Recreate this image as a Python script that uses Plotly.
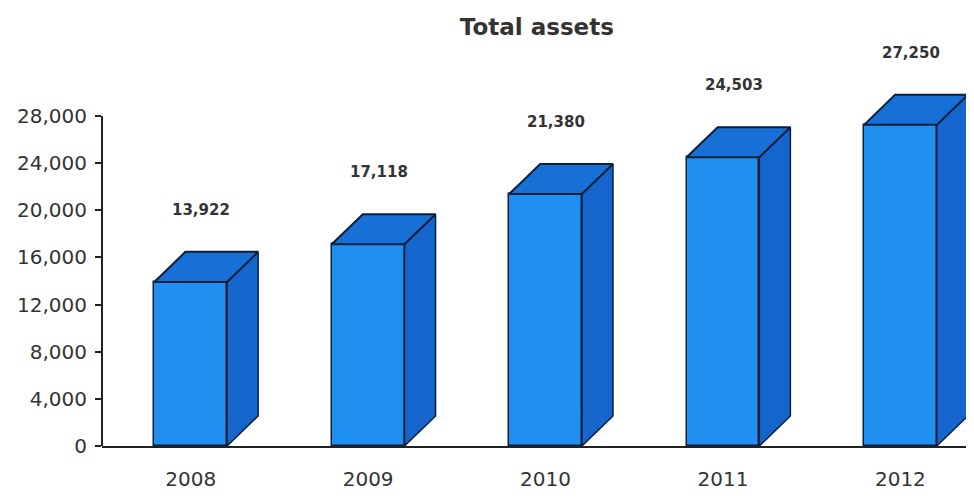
import plotly.graph_objects as go

years = ["2008", "2009", "2010", "2011", "2012"]
assets = [13922, 17118, 21380, 24503, 27250]
label_text = ["13,922", "17,118", "21,380", "24,503", "27,250"]
y_ticks = [0, 4000, 8000, 12000, 16000, 20000, 24000, 28000]
y_tick_text = ["0", "4,000", "8,000", "12,000", "16,000", "20,000", "24,000", "28,000"]

pos = list(range(len(years)))
W = 0.41      # bar width (axis units)
DX = 0.175    # depth offset in x
DY = 2550     # depth offset in y

front = "#1f8ff0"
top_c = "#1670d6"
side_c = "#1465cc"
edge = "#0b1f3a"

fig = go.Figure()

# side and top faces
for p, v in zip(pos, assets):
    xr = p + W / 2
    fig.add_trace(go.Scatter(
        x=[xr, xr + DX, xr + DX, xr, xr],
        y=[0, DY, v + DY, v, 0],
        fill="toself", fillcolor=side_c, mode="lines",
        line=dict(color=edge, width=1.5), hoverinfo="skip", showlegend=False))
    fig.add_trace(go.Scatter(
        x=[p - W / 2, xr, xr + DX, p - W / 2 + DX, p - W / 2],
        y=[v, v, v + DY, v + DY, v],
        fill="toself", fillcolor=top_c, mode="lines",
        line=dict(color=edge, width=2), hoverinfo="skip", showlegend=False))

# front faces
fig.add_trace(go.Bar(
    x=pos, y=assets, width=W, marker=dict(color=front, line=dict(color=edge, width=1.5)),
    showlegend=False, hoverinfo="skip"))

for p, v, t in zip(pos, assets, label_text):
    fig.add_annotation(x=p + 0.06, y=v, text=t, showarrow=False, yshift=72,
                       font=dict(family="DejaVu Sans", size=15, color="#333333", weight="bold"))

# y axis line
fig.add_shape(type="line", xref="paper", yref="y", x0=0, x1=0, y0=0, y1=28000,
              line=dict(color="#222222", width=2))

fig.update_layout(
    width=974, height=501,
    margin=dict(l=94, r=0, t=32, b=63, autoexpand=False),
    paper_bgcolor="white", plot_bgcolor="white",
    title=dict(text="<b>Total assets</b>", x=0.543, xanchor="center", y=0.962, yanchor="middle",
               font=dict(family="DejaVu Sans", size=23, color="#333333")),
    bargap=0,
)
fig.update_xaxes(range=[-0.5, 4.46], tickvals=pos, ticktext=years, showgrid=False, zeroline=False,
                 showline=True, linecolor="#222222", linewidth=2, ticks="", ticklabelstandoff=14,
                 tickfont=dict(family="DejaVu Sans", size=20, color="#333333"))
fig.update_yaxes(range=[0, 34450], tickvals=y_ticks, ticktext=y_tick_text, showgrid=False,
                 zeroline=False, showline=False, ticks="outside", ticklen=6, tickcolor="#222222",
                 tickwidth=1.5, ticklabelstandoff=4,
                 tickfont=dict(family="DejaVu Sans", size=20, color="#333333"))

fig.write_html("out.html")
